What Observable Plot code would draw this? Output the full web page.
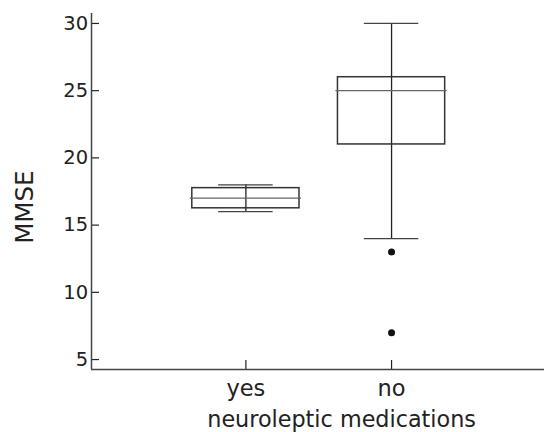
<!DOCTYPE html>
<html><head><meta charset="utf-8">
<script src="https://cdn.jsdelivr.net/npm/d3@7"></script>
<script src="https://cdn.jsdelivr.net/npm/@observablehq/plot@0.6"></script>
<style>html,body{margin:0;padding:0;background:#fff} svg{display:block}</style>
</head><body><div id="chart"></div>
<script>
// Data
const groups = ["yes", "no"];
const lowerWhisker = [16, 14];
const q1 = [16.25, 21];
const median = [17, 25];
const q3 = [17.75, 26];
const upperWhisker = [18, 30];
const outlierGroup = ["no", "no"];
const outlierValue = [13, 7];
const yTicks = [5, 10, 15, 20, 25, 30];
const xLabel = "neuroleptic medications";
const yLabel = "MMSE";

const rows = groups.map((g, i) => ({
  g, pos: i + 1, lo: lowerWhisker[i], q1: q1[i], med: median[i], q3: q3[i], hi: upperWhisker[i]
}));
const outlierRows = outlierGroup.map((g, i) => ({pos: groups.indexOf(g) + 1, value: outlierValue[i]}));

const xDomain = [-0.06, 3.05];
const yDomain = [4.26, 30.74];
const BOX = 0.368, CAP = 0.187, MED = 0.382;
const ink = "#222";

const chart = Plot.plot({
  width: 544, height: 432,
  marginLeft: 91, marginRight: 0, marginTop: 13, marginBottom: 63,
  style: {fontFamily: "'DejaVu Sans', sans-serif", color: ink, background: "#fff", overflow: "visible"},
  x: {domain: xDomain},
  y: {domain: yDomain},
  marks: [
    Plot.axisY({ticks: yTicks, tickSize: -8, tickPadding: 11.4, fontSize: 19.5, label: null, strokeWidth: 1.2}),
    Plot.axisX({ticks: [1, 2], tickFormat: d => groups[d - 1], tickSize: -9, tickPadding: 19.5, fontSize: 22.5, label: null, strokeWidth: 1.2}),
    Plot.ruleX([xDomain[0]], {stroke: "#444", strokeWidth: 1.5}),
    Plot.ruleY([yDomain[0]], {stroke: "#444", strokeWidth: 1.5}),
    Plot.ruleX(rows, {x: "pos", y1: "lo", y2: "hi", stroke: "#222", strokeWidth: 1.3}),
    Plot.ruleY(rows, {y: "hi", x1: d => d.pos - CAP, x2: d => d.pos + CAP, stroke: "#444", strokeWidth: 1.3}),
    Plot.ruleY(rows, {y: "lo", x1: d => d.pos - CAP, x2: d => d.pos + CAP, stroke: "#444", strokeWidth: 1.3}),
    Plot.rect(rows, {x1: d => d.pos - BOX, x2: d => d.pos + BOX, y1: "q1", y2: "q3", fill: "none", stroke: "#333", strokeWidth: 1.5}),
    Plot.ruleY(rows, {y: "med", x1: d => d.pos - MED, x2: d => d.pos + MED, stroke: "#666", strokeWidth: 1.2}),
    Plot.dot(outlierRows, {x: "pos", y: "value", r: 3.5, fill: "#111", stroke: "none"}),
    Plot.text([xLabel], {frameAnchor: "bottom", textAnchor: "middle", dx: 23.6, dy: 57, lineAnchor: "bottom", fontSize: 22.3, fill: ink}),
    Plot.text([yLabel], {frameAnchor: "left", textAnchor: "middle", dx: -66.7, dy: 15.7, rotate: -90, lineAnchor: "middle", fontSize: 24.5, fill: ink})
  ]
});
document.getElementById("chart").appendChild(chart);
</script>
</body></html>
